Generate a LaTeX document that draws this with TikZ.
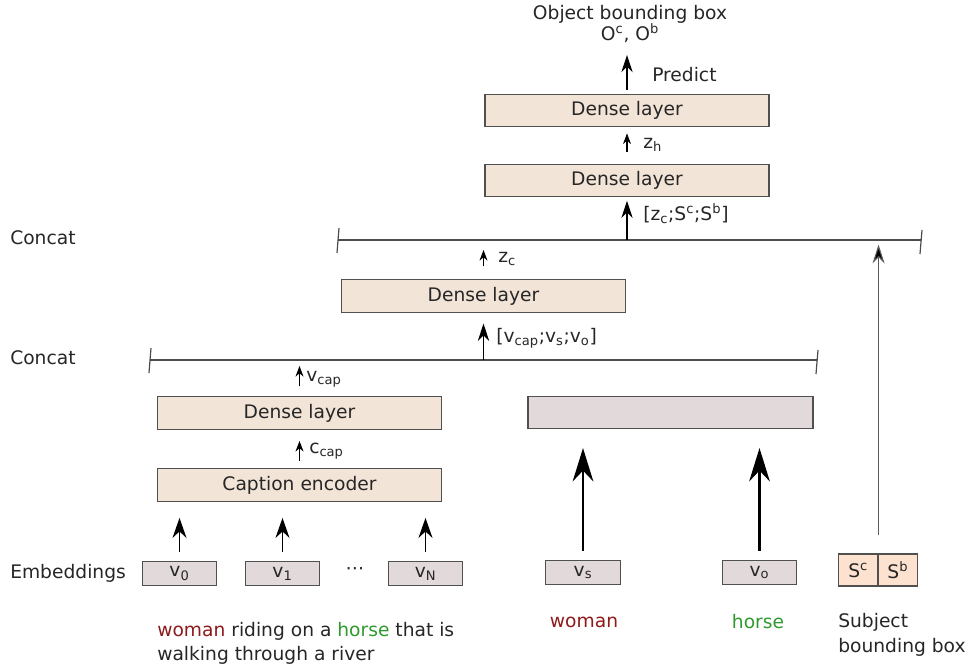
\documentclass[tikz,border=0pt]{standalone}
\usepackage{fontspec}
\setmainfont{DejaVu Sans}
\usetikzlibrary{arrows.meta}
\definecolor{densefill}{HTML}{F3E4D8}
\definecolor{embfill}{HTML}{E2DADA}
\definecolor{sfill}{HTML}{FDE2D0}
\definecolor{wred}{HTML}{8E1A1A}
\definecolor{hgreen}{HTML}{2E9A2E}
\definecolor{edge}{HTML}{505050}
\begin{document}
\begin{tikzpicture}[x=0.75pt,y=-0.75pt, font=\fontsize{14}{17}\selectfont, text=black!85,
  dense/.style={draw=edge, line width=0.9pt, fill=densefill, minimum width=213pt, minimum height=24.5pt, inner sep=0pt},
  graybox/.style={draw=edge, line width=0.9pt, fill=embfill, minimum width=213.75pt, minimum height=24.5pt, inner sep=0pt},
  emb/.style={draw=edge, line width=0.9pt, fill=embfill, minimum width=56pt, minimum height=17.5pt, inner sep=0pt},
  sbox/.style={draw=edge, line width=0.9pt, fill=sfill, minimum width=29.6pt, minimum height=24pt, inner sep=0pt},
  sarr/.style={-{Stealth[length=8pt,width=6pt]}, line width=0.8pt},
  marr/.style={-{Stealth[length=13pt,width=8.5pt]}, line width=0.8pt},
  earr/.style={-{Stealth[length=15pt,width=10.5pt]}, line width=0.9pt},
  barr/.style={-{Stealth[length=25pt,width=15.5pt]}, line width=1.6pt},
  cline/.style={draw=black!70, line width=0.9pt},
  lbl/.style={anchor=west, inner sep=0pt},
]
\useasboundingbox (0,0) rectangle (972,666);

% boxes
\node[dense] (d1) at (627,110.5) {Dense layer};
\node[dense] (d2) at (627,180.5) {Dense layer};
\node[dense] (d3) at (483.5,296) {Dense layer};
\node[dense] (d4) at (299.5,413) {Dense layer};
\node[dense] (enc) at (299.5,485) {Caption encoder};
\node[graybox] (g) at (670.5,412.5) {};

\node[emb] (e0) at (179.5,573.5) {v\textsubscript{0}};
\node[emb] (e1) at (282.5,573.5) {v\textsubscript{1}};
\node[emb] (eN) at (425.5,573.5) {v\textsubscript{N}};
\node[emb] (es) at (583,572.5) {v\textsubscript{s}};
\node[emb] (eo) at (759.5,572.5) {v\textsubscript{o}};
\node (dots) at (355,571) {⋯};

\node[sbox] (sc) at (858.2,570) {S\textsuperscript{c}};
\node[sbox] (sb) at (897.8,570) {S\textsuperscript{b}};

% text
\node[align=center, inner sep=0pt] (out) at (630,24) {Object bounding box\\[-1pt]O\textsuperscript{c}, O\textsuperscript{b}};
\coordinate (pt) at (627,55);
\node[lbl] (concat1) at (10,238) {Concat};
\node[lbl] (concat2) at (10,358) {Concat};
\node[lbl] (embl) at (10,573) {Embeddings};
\node[lbl] (lpred) at (652,75) {Predict};
\node[lbl] (lzh) at (643,145) {z\textsubscript{h}};
\node[lbl] (lzcs) at (643,214) {[z\textsubscript{c};S\textsuperscript{c};S\textsuperscript{b}]};
\node[lbl] (lzc) at (498,259) {z\textsubscript{c}};
\node[lbl] (lvc) at (496,338) {[v\textsubscript{cap};v\textsubscript{s};v\textsubscript{o}]};
\node[lbl] (lvcap) at (306,379) {v\textsubscript{cap}};
\node[lbl] (lccap) at (309,451) {c\textsubscript{cap}};

\node[anchor=north west, align=left, inner sep=0pt] (cap) at (157,622) {\textcolor{wred}{woman} riding on a \textcolor{hgreen}{horse} that is\\[1pt]walking through a river};
\node[text=wred] (wl) at (584,622) {woman};
\node[text=hgreen] (hl) at (758,622) {horse};
\node[anchor=north west, align=left, inner sep=0pt] (subj) at (838,613) {Subject\\[2pt]bounding box};

% concat lines
\coordinate (c1l) at (338,240);
\coordinate (c1r) at (921,240);
\coordinate (c2l) at (150,360);
\coordinate (c2r) at (817,360);
\draw[cline] (c1l) -- (c1r);
\draw[cline] ([shift={(1,-12)}]c1l) -- ([shift={(-1,13)}]c1l);
\draw[cline] ([shift={(1,-10)}]c1r) -- ([shift={(-1,14)}]c1r);
\draw[cline] (c2l) -- (c2r);
\draw[cline] ([shift={(1,-12)}]c2l) -- ([shift={(-1,13)}]c2l);
\draw[cline] ([shift={(1,-10)}]c2r) -- ([shift={(-1,14)}]c2r);

% arrows
\draw[marr, shorten <=3pt] (d1.north) -- (pt);
\draw[sarr, shorten <=9pt, shorten >=4.5pt] (d2.north) -- (d1.south);
\draw[marr, shorten >=2.5pt] (d2.south |- c1l) -- (d2.south);
\draw[sarr, shorten <=9.75pt, shorten >=7.5pt] (d3.north) -- (d3.north |- c1l);
\draw[marr, shorten >=8pt] (d3.south |- c2l) -- (d3.south);
\draw[sarr, shorten <=7.5pt, shorten >=4.5pt] (d4.north) -- (d4.north |- c2l);
\draw[sarr, shorten <=5.25pt, shorten >=8.25pt] (enc.north) -- (d4.south);
\draw[earr, shorten <=6.75pt, shorten >=12pt] (e0.north) -- (e0.north |- enc.south);
\draw[earr, shorten <=6.75pt, shorten >=12pt] (e1.north) -- (e1.north |- enc.south);
\draw[earr, shorten <=6.75pt, shorten >=12pt] (eN.north) -- (eN.north |- enc.south);
\draw[barr, shorten <=6.75pt, shorten >=14pt] (es.north) -- (es.north |- g.south);
\draw[barr, shorten <=6.75pt, shorten >=14pt] (eo.north) -- (eo.north |- g.south);
\draw[-{Stealth[length=14pt,width=9pt,fill=black]}, draw=black!65, line width=0.8pt, shorten <=13.5pt, shorten >=3.5pt] (sc.north east) -- (sc.north east |- c1l);
\end{tikzpicture}
\end{document}
